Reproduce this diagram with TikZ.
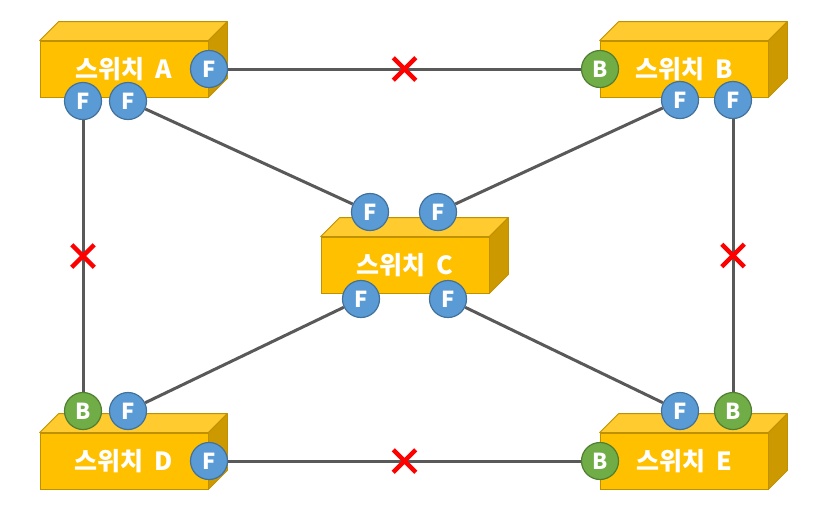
\documentclass[tikz,border=0pt]{standalone}
\usepackage{fontspec}
\setmainfont{Noto Sans CJK KR}
\usetikzlibrary{calc,shapes.misc}
\definecolor{swfront}{HTML}{FFC000}
\definecolor{swtop}{HTML}{FFCB2F}
\definecolor{swside}{HTML}{CC9A00}
\definecolor{swedge}{HTML}{BF9000}
\definecolor{fblue}{HTML}{5B9BD5}
\definecolor{fedge}{HTML}{41719C}
\definecolor{bgreen}{HTML}{70AD47}
\definecolor{bedge}{HTML}{507E32}
\definecolor{wire}{HTML}{595959}
\definecolor{xred}{HTML}{FF0000}
\tikzset{
  x=1pt,y=-1pt,
  every node/.style={text=white},
  swbox/.style={draw=swedge,fill=swfront,line width=0.8pt,minimum width=168pt,minimum height=56pt,inner sep=0pt,font=\fontsize{25}{28}\selectfont\bfseries},
  topface/.style={draw=swedge,fill=swtop,line width=0.8pt,line join=round},
  sideface/.style={draw=swedge,fill=swside,line width=0.8pt,line join=round},
  port/.style={circle,draw=fedge,fill=fblue,line width=1.2pt,minimum size=37pt,inner sep=0pt,font=\fontsize{22}{24}\selectfont\bfseries},
  bport/.style={port,draw=bedge,fill=bgreen},
  link/.style={draw=wire,line width=3pt},
  cut/.style={cross out,draw=xred,line width=4.5pt,minimum size=18pt,inner sep=0pt},
}
% 3D switch: front face as node, top and side faces from its anchors
\newcommand{\switchbox}[3]{%
  \node[swbox] (#1) at (#2) {스위치\hspace{0.45em}#3};
  \filldraw[topface] (#1.north west) -- ++(19,-19) -- ($(#1.north east)+(19,-19)$) -- (#1.north east) -- cycle;
  \filldraw[sideface] (#1.north east) -- ++(19,-19) -- ($(#1.south east)+(19,-19)$) -- (#1.south east) -- cycle;
}
\begin{document}
\begin{tikzpicture}
\useasboundingbox[fill=white] (0,0) rectangle (818,515);

\switchbox{swA}{124,69}{A}
\switchbox{swB}{684,69}{B}
\switchbox{swC}{405,265}{C}
\switchbox{swD}{124,461}{D}
\switchbox{swE}{684,461}{E}

% ports
\node[port] (a1) at (209,69) {F};
\node[port] (a2) at (83,101) {F};
\node[port] (a3) at (128,101) {F};
\node[bport] (b1) at (600,69) {B};
\node[port] (b2) at (680,100) {F};
\node[port] (b3) at (733,100) {F};
\node[port] (c1) at (370,212) {F};
\node[port] (c2) at (438,212) {F};
\node[port] (c3) at (361,299) {F};
\node[port] (c4) at (448,299) {F};
\node[bport] (d1) at (83,411) {B};
\node[port] (d2) at (128,411) {F};
\node[port] (d3) at (209,461) {F};
\node[port] (e1) at (680,411) {F};
\node[bport] (e2) at (733,411) {B};
\node[bport] (e3) at (600,461) {B};

% links
\draw[link] (a1) -- node[cut] (x1) {} (b1);
\draw[link] (a2) -- node[cut] (x2) {} (d1);
\draw[link] (b3) -- node[cut] (x3) {} (e2);
\draw[link] (d3) -- node[cut] (x4) {} (e3);
\draw[link] (a3) -- (c1);
\draw[link] (b2) -- (c2);
\draw[link] (c3) -- (d2);
\draw[link] (c4) -- (e1);

\end{tikzpicture}
\end{document}
